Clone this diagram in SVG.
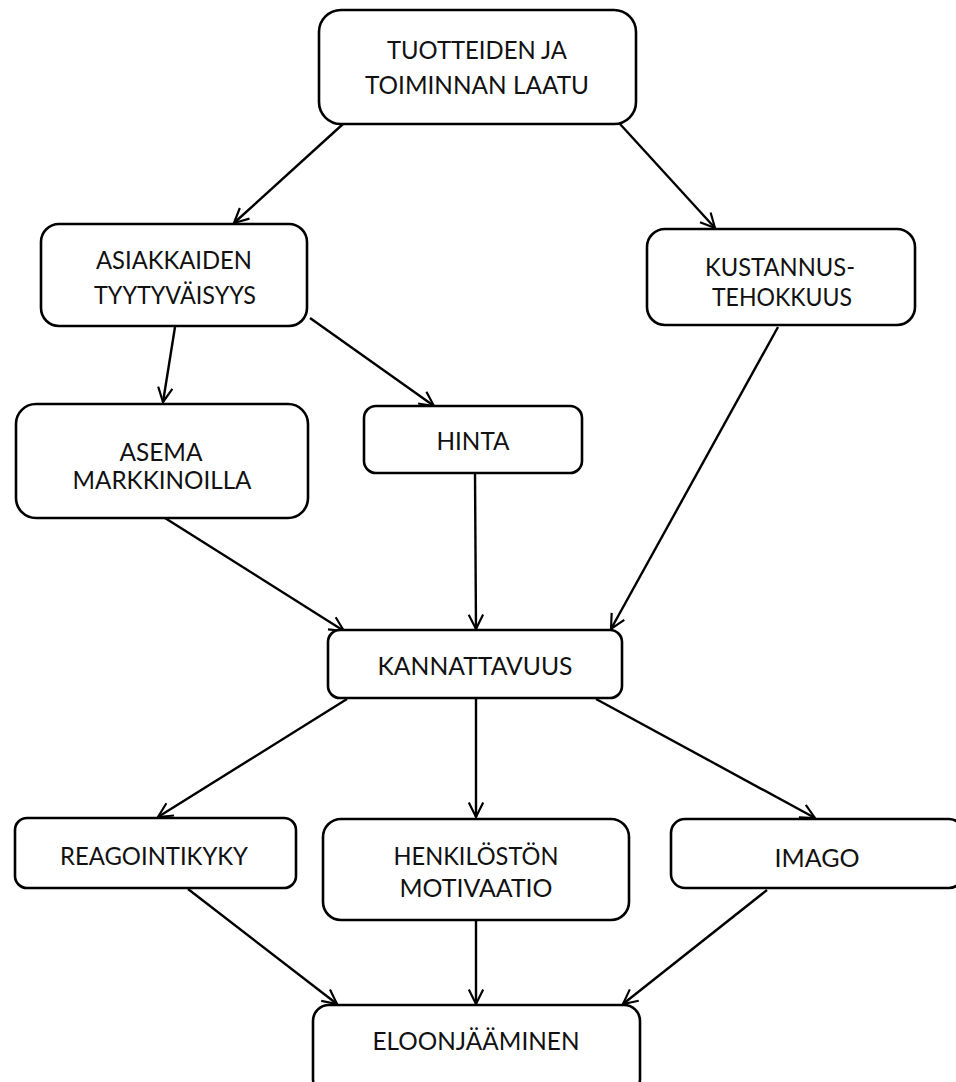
<svg xmlns="http://www.w3.org/2000/svg" width="956" height="1082" viewBox="0 0 956 1082">
<style>
.box{fill:#fff;stroke:#000;stroke-width:2.6}
.lbl{font-family:Lato,"Open Sans","Liberation Sans",sans-serif;font-size:25px;fill:#111;text-anchor:middle}
.edge{stroke:#000;stroke-width:2.4;fill:none;marker-end:url(#arr)}
</style>
<defs>
<marker id="arr" viewBox="0 0 20 20" refX="18" refY="10" markerWidth="18" markerHeight="18" markerUnits="userSpaceOnUse" orient="auto">
<path d="M2,2 L18,10 L2,18" fill="none" stroke="#000" stroke-width="2.4"/>
</marker>
</defs>
<rect width="956" height="1082" fill="#fff"/>
<g id="connectors">
<line class="edge" x1="343" y1="124" x2="234" y2="223"/>
<line class="edge" x1="620" y1="124" x2="715" y2="228"/>
<line class="edge" x1="175" y1="327" x2="163" y2="402"/>
<line class="edge" x1="310" y1="318" x2="434" y2="406"/>
<line class="edge" x1="778" y1="327" x2="611" y2="629"/>
<line class="edge" x1="165" y1="518" x2="344" y2="631"/>
<line class="edge" x1="475" y1="473" x2="476" y2="629"/>
<line class="edge" x1="347" y1="699" x2="158" y2="817"/>
<line class="edge" x1="476" y1="699" x2="476" y2="817"/>
<line class="edge" x1="596" y1="699" x2="815" y2="818"/>
<line class="edge" x1="188" y1="889" x2="337" y2="1004"/>
<line class="edge" x1="476" y1="921" x2="476" y2="1004"/>
<line class="edge" x1="767" y1="890" x2="623" y2="1004"/>
</g>
<g id="laatu">
<rect class="box" x="319" y="10" width="317" height="114" rx="22"/>
<text class="lbl" x="477" y="59" textLength="180" lengthAdjust="spacingAndGlyphs">TUOTTEIDEN JA</text>
<text class="lbl" x="477" y="94" textLength="224" lengthAdjust="spacingAndGlyphs">TOIMINNAN LAATU</text>
</g>
<g id="asiakkaiden">
<rect class="box" x="41" y="224" width="266" height="102" rx="18"/>
<text class="lbl" x="174" y="269" textLength="156" lengthAdjust="spacingAndGlyphs">ASIAKKAIDEN</text>
<text class="lbl" x="175" y="304" textLength="162" lengthAdjust="spacingAndGlyphs">TYYTYVÄISYYS</text>
</g>
<g id="kustannus">
<rect class="box" x="647" y="229" width="268" height="96" rx="18"/>
<text class="lbl" x="780" y="276" textLength="150" lengthAdjust="spacingAndGlyphs">KUSTANNUS-</text>
<text class="lbl" x="782" y="306" textLength="140" lengthAdjust="spacingAndGlyphs">TEHOKKUUS</text>
</g>
<g id="asema">
<rect class="box" x="16" y="404" width="292" height="114" rx="20"/>
<text class="lbl" x="161" y="461" textLength="83" lengthAdjust="spacingAndGlyphs">ASEMA</text>
<text class="lbl" x="162" y="489" textLength="179" lengthAdjust="spacingAndGlyphs">MARKKINOILLA</text>
</g>
<g id="hinta">
<rect class="box" x="364" y="406" width="218" height="67" rx="12"/>
<text class="lbl" x="473" y="450" textLength="73" lengthAdjust="spacingAndGlyphs">HINTA</text>
</g>
<g id="kannattavuus">
<rect class="box" x="328" y="630" width="294" height="68" rx="12"/>
<text class="lbl" x="475" y="675" textLength="195" lengthAdjust="spacingAndGlyphs">KANNATTAVUUS</text>
</g>
<g id="reagointikyky">
<rect class="box" x="15" y="818" width="281" height="70" rx="12"/>
<text class="lbl" x="154" y="865" textLength="188" lengthAdjust="spacingAndGlyphs">REAGOINTIKYKY</text>
</g>
<g id="henkiloston">
<rect class="box" x="323" y="819" width="306" height="101" rx="18"/>
<text class="lbl" x="476" y="865" textLength="165" lengthAdjust="spacingAndGlyphs">HENKILÖSTÖN</text>
<text class="lbl" x="476" y="897" textLength="153" lengthAdjust="spacingAndGlyphs">MOTIVAATIO</text>
</g>
<g id="imago">
<rect class="box" x="671" y="819" width="292" height="69" rx="14"/>
<text class="lbl" x="817" y="867" textLength="85" lengthAdjust="spacingAndGlyphs">IMAGO</text>
</g>
<g id="eloonjaaminen">
<rect class="box" x="313" y="1005" width="327" height="90" rx="16"/>
<text class="lbl" x="476" y="1050" textLength="207" lengthAdjust="spacingAndGlyphs">ELOONJÄÄMINEN</text>
</g>
</svg>
